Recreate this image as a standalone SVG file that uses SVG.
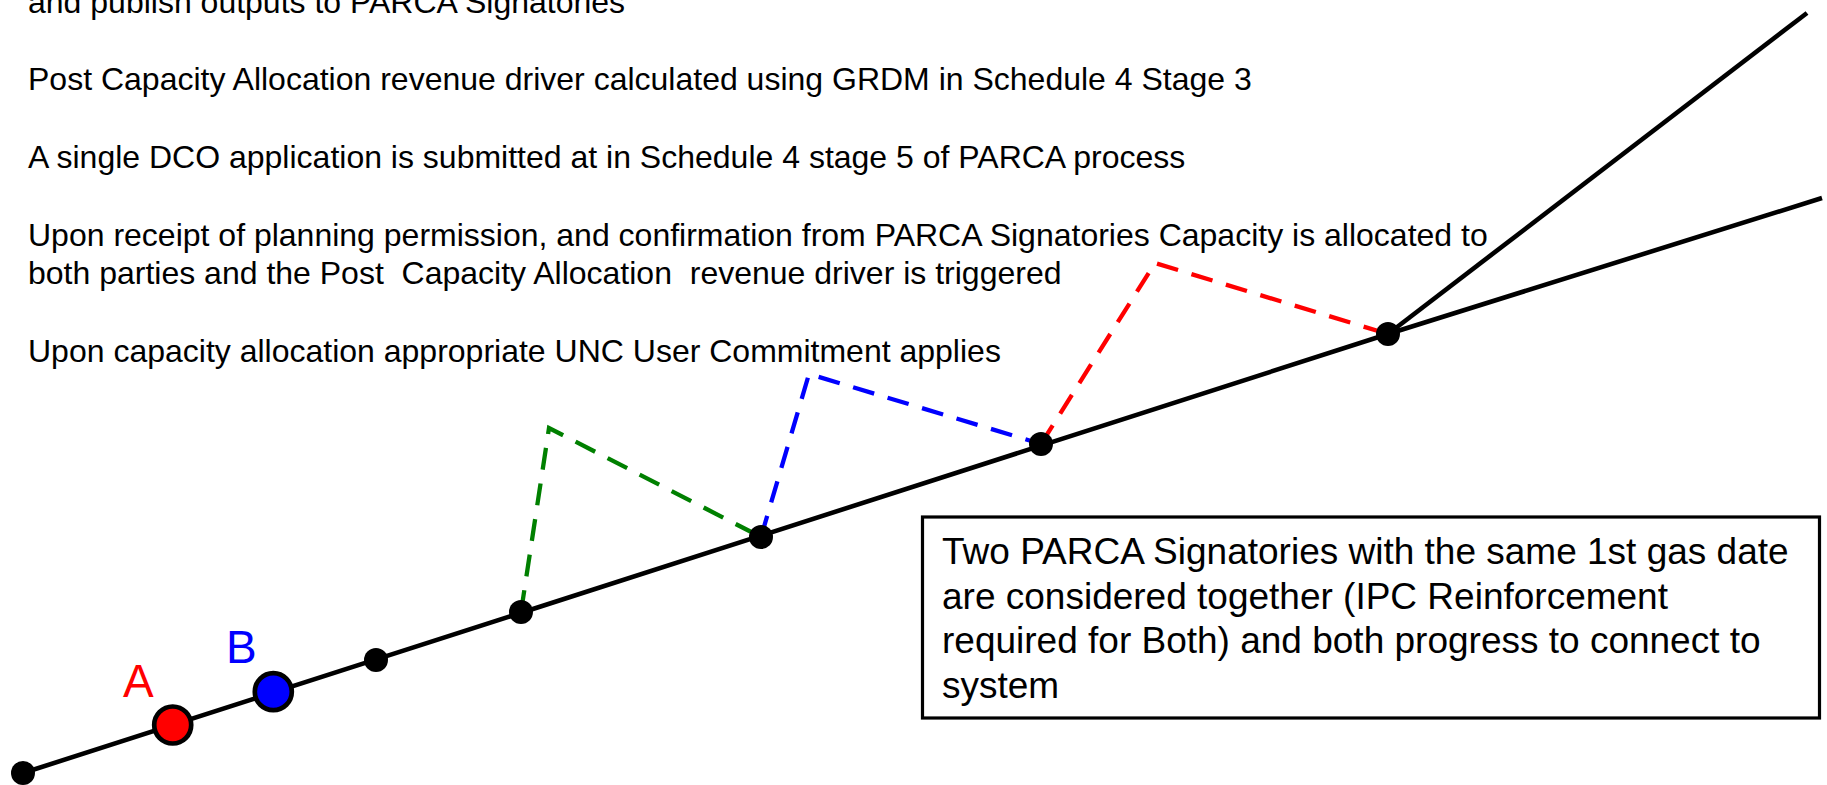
<svg xmlns="http://www.w3.org/2000/svg" width="1827" height="785" viewBox="0 0 1827 785">
<style>
.t{font-family:"Liberation Sans",Arial,sans-serif;font-size:32px;fill:#000;white-space:pre}
.bt{font-family:"Liberation Sans",Arial,sans-serif;font-size:37px;fill:#000}
.lbl{font-family:"Liberation Sans",Arial,sans-serif;font-size:46px}
.main{fill:none;stroke:#000;stroke-width:4.6;stroke-linejoin:round}
.dash{fill:none;stroke-width:4.3;stroke-dasharray:22 14}
.dot{fill:#000}
</style>
<rect width="1827" height="785" fill="#fff"/>
<g id="notes">
<text class="t" x="28" y="12.5">and publish outputs to PARCA Signatories</text>
<text class="t" x="28" y="90">Post Capacity Allocation revenue driver calculated using GRDM in Schedule 4 Stage 3</text>
<text class="t" x="28" y="167.5">A single DCO application is submitted at in Schedule 4 stage 5 of PARCA process</text>
<text class="t" x="28" y="245.5">Upon receipt of planning permission, and confirmation from PARCA Signatories Capacity is allocated to</text>
<text class="t" x="28" y="283.5" xml:space="preserve">both parties and the Post  Capacity Allocation  revenue driver is triggered</text>
<text class="t" x="28" y="362">Upon capacity allocation appropriate UNC User Commitment applies</text>
</g>
<g id="connectors">
<polyline class="main" points="23,773 1388,334 1822,198"/>
<line class="main" x1="1388" y1="334" x2="1807" y2="13"/>
<polyline class="dash" stroke="#008000" points="521,612 549,428 761,537"/>
<polyline class="dash" stroke="#0000ff" points="761,537 809,374 1041,444"/>
<polyline class="dash" stroke="#ff0000" points="1041,444 1155,263 1388,334"/>
</g>
<g id="node-start"><circle class="dot" cx="23" cy="773" r="12"/></g>
<g id="node-a"><circle cx="172.7" cy="725" r="18.5" fill="#ff0000" stroke="#000" stroke-width="4.7"/><text class="lbl" x="123" y="697" fill="#ff0000">A</text></g>
<g id="node-b"><circle cx="273.3" cy="691.7" r="18.5" fill="#0000ff" stroke="#000" stroke-width="4.7"/><text class="lbl" x="226" y="663" fill="#0000ff">B</text></g>
<g id="node-1"><circle class="dot" cx="376" cy="660" r="12"/></g>
<g id="node-2"><circle class="dot" cx="521" cy="612" r="12"/></g>
<g id="node-3"><circle class="dot" cx="761" cy="537" r="12"/></g>
<g id="node-4"><circle class="dot" cx="1041" cy="444" r="12"/></g>
<g id="node-5"><circle class="dot" cx="1388" cy="334" r="12"/></g>
<g id="note-box">
<rect x="922.5" y="517" width="897" height="201" fill="#fff" stroke="#000" stroke-width="3.2"/>
<text class="bt" x="942" y="564">Two PARCA Signatories with the same 1st gas date</text>
<text class="bt" x="942" y="608.7">are considered together (IPC Reinforcement</text>
<text class="bt" x="942" y="653.3">required for Both) and both progress to connect to</text>
<text class="bt" x="942" y="698">system</text>
</g>
</svg>
